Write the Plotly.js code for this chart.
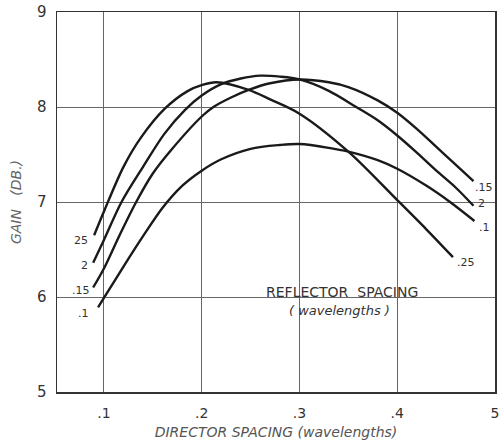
<!DOCTYPE html>
<html>
<head>
<meta charset="utf-8">
<script src="https://cdn.plot.ly/plotly-3.0.1.min.js"></script>
<style>html,body{margin:0;padding:0;background:#fff;}#chart{width:503px;height:440px;}</style>
</head>
<body>
<div id="chart"></div>
<script>
// Reflector spacing series (wavelengths) — gain (dB) vs director spacing
const seriesNames = ['.1', '.15', '.2', '.25'];

const r10x = [0.094, 0.1, 0.12, 0.14, 0.16, 0.18, 0.2, 0.22, 0.25, 0.28, 0.3, 0.33, 0.35, 0.38, 0.4, 0.43, 0.454, 0.479];
const r10y = [5.89, 5.99, 6.32, 6.64, 6.94, 7.17, 7.33, 7.45, 7.56, 7.6, 7.61, 7.57, 7.53, 7.44, 7.35, 7.17, 7.0, 6.80];

const r15x = [0.089, 0.1, 0.116, 0.133, 0.15, 0.169, 0.2, 0.212, 0.23, 0.248, 0.27, 0.3, 0.33, 0.35, 0.38, 0.4, 0.42, 0.44, 0.46, 0.478];
const r15y = [6.10, 6.30, 6.65, 7.0, 7.3, 7.55, 7.9, 8.0, 8.1, 8.18, 8.25, 8.29, 8.26, 8.21, 8.07, 7.94, 7.77, 7.58, 7.39, 7.22];

const r20x = [0.089, 0.1, 0.118, 0.14, 0.162, 0.183, 0.2, 0.22, 0.24, 0.26, 0.28, 0.3, 0.33, 0.358, 0.38, 0.4, 0.42, 0.44, 0.46, 0.478];
const r20y = [6.36, 6.6, 7.0, 7.37, 7.72, 7.97, 8.12, 8.24, 8.30, 8.33, 8.32, 8.29, 8.17, 8.0, 7.86, 7.70, 7.52, 7.33, 7.15, 6.96];

const r25x = [0.09, 0.1, 0.12, 0.138, 0.162, 0.186, 0.2, 0.215, 0.248, 0.27, 0.3, 0.35, 0.4, 0.43, 0.457];
const r25y = [6.65, 6.9, 7.37, 7.68, 7.98, 8.17, 8.23, 8.26, 8.18, 8.08, 7.93, 7.53, 7.02, 6.71, 6.42];

const xTickVals = [0.1, 0.2, 0.3, 0.4, 0.5];
const xTickText = ['.1', '.2', '.3', '.4', '5'];
const yTickVals = [5, 6, 7, 8, 9];
const yTickText = ['5', '6', '7', '8', '9'];

// label positions (text placement only)
const leftLabels = [
  {t: '25', x: 0.0765, y: 6.60},
  {t: '2', x: 0.080, y: 6.33},
  {t: '.15', x: 0.0765, y: 6.07},
  {t: '.1', x: 0.079, y: 5.83}
];
const rightLabels = [
  {t: '.15', x: 0.489, y: 7.15},
  {t: '2', x: 0.486, y: 6.98},
  {t: '.1', x: 0.489, y: 6.73},
  {t: '.25', x: 0.470, y: 6.36}
];

const xs = [r10x, r15x, r20x, r25x];
const ys = [r10y, r15y, r20y, r25y];
const traces = xs.map((x, i) => ({
  x: x, y: ys[i], name: seriesNames[i], type: 'scatter', mode: 'lines',
  line: {color: '#1a1a1a', width: 2.4, shape: 'spline', smoothing: 0.9},
  hoverinfo: 'skip', showlegend: false
}));

const labelFont = {family: 'DejaVu Sans, sans-serif', size: 11, color: '#333'};
const annotations = [];
leftLabels.concat(rightLabels).forEach(l => annotations.push({
  x: l.x, y: l.y, xref: 'x', yref: 'y', text: l.t, showarrow: false, font: labelFont
}));
annotations.push({x: 0.344, y: 6.05, xref: 'x', yref: 'y', text: 'REFLECTOR  SPACING', showarrow: false,
  font: {family: 'DejaVu Sans, sans-serif', size: 14, color: '#333'}});
annotations.push({x: 0.341, y: 5.86, xref: 'x', yref: 'y', text: '<i>( wavelengths )</i>', showarrow: false,
  font: {family: 'DejaVu Sans, sans-serif', size: 13, color: '#333'}});

const layout = {
  width: 503, height: 440,
  margin: {l: 57, r: 8, t: 12, b: 48},
  paper_bgcolor: '#fff', plot_bgcolor: '#fff',
  showlegend: false,
  xaxis: {
    range: [0.052, 0.5], tickvals: xTickVals, ticktext: xTickText,
    showgrid: true, gridcolor: '#666', gridwidth: 1,
    zeroline: false, showline: true, linecolor: '#333', linewidth: 1.5, mirror: true,
    ticks: '', ticklabelstandoff: 8,
    tickfont: {family: 'DejaVu Sans, sans-serif', size: 14, color: '#333'},
    title: {text: '<i>DIRECTOR SPACING (wavelengths)</i>', standoff: 8,
      font: {family: 'DejaVu Sans, sans-serif', size: 14, color: '#555'}}
  },
  yaxis: {
    range: [5, 9], tickvals: yTickVals, ticktext: yTickText,
    showgrid: true, gridcolor: '#666', gridwidth: 1,
    zeroline: false, showline: true, linecolor: '#333', linewidth: 1.5, mirror: true,
    ticks: '', ticklabelstandoff: 6,
    tickfont: {family: 'DejaVu Sans, sans-serif', size: 15, color: '#333'},
    title: {text: '<i>GAIN   (DB.)</i>', standoff: 12,
      font: {family: 'DejaVu Sans, sans-serif', size: 14, color: '#666'}}
  },
  annotations: annotations
};

Plotly.newPlot('chart', traces, layout, {displayModeBar: false, staticPlot: true});
</script>
</body>
</html>
